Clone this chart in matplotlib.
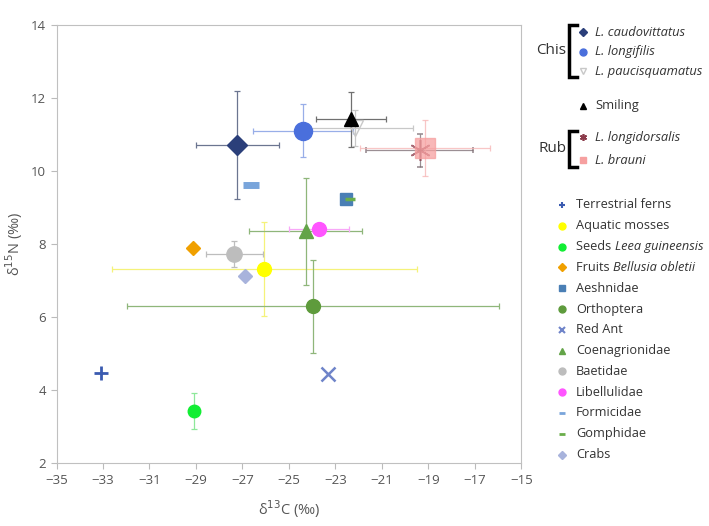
import matplotlib.pyplot as plt

plt.rcParams['font.family'] = ['Open Sans', 'DejaVu Sans']

# --- data: food sources (delta13C, delta15N, errors) ---
src_names = ['Terrestrial ferns', 'Aquatic mosses', 'Seeds', 'Fruits', 'Aeshnidae',
             'Orthoptera', 'Red Ant', 'Coenagrionidae', 'Baetidae', 'Libellulidae',
             'Formicidae', 'Gomphidae', 'Crabs']
src_c = [-33.1, -26.06, -29.1, -29.13, -22.55, -23.98, -23.32, -24.28, -27.35, -23.7, -26.65, -22.38, -26.88]
src_n = [4.47, 7.32, 3.44, 7.91, 9.24, 6.30, 4.45, 8.35, 7.73, 8.41, 9.62, 9.24, 7.12]
src_xerr = [0, 6.56, 0, 0, 0, 8.0, 0, 2.44, 1.22, 1.29, 0, 0, 0]
src_yerr = [0, 1.28, 0.49, 0, 0, 1.28, 0, 1.47, 0.36, 0, 0, 0, 0]

# --- data: fish ---
fish_names = ['L. caudovittatus', 'L. longifilis', 'L. paucisquamatus', 'Smiling',
              'L. longidorsalis', 'L. brauni']
fish_c = [-27.22, -24.38, -22.16, -22.33, -19.37, -19.15]
fish_n = [10.72, 11.11, 11.18, 11.42, 10.58, 10.63]
fish_xerr = [1.78, 2.15, 2.5, 1.5, 2.3, 2.8]
fish_yerr = [1.48, 0.73, 0.5, 0.75, 0.45, 0.77]

# styles
src_style = [
    dict(marker='+', color='#3a5bb0', ecolor='#3a5bb0', ms=10, mew=2),
    dict(marker='o', color='#ffff00', ecolor='#f5f27a', ms=10),
    dict(marker='o', color='#11ee33', ecolor='#8ee89a', ms=9),
    dict(marker='D', color='#f0a000', ecolor='#f0a000', ms=7),
    dict(marker='s', color='#4a7fb5', ecolor='#4a7fb5', ms=9),
    dict(marker='o', color='#5e9b3c', ecolor='#8fb67a', ms=10),
    dict(marker='x', color='#6f84c9', ecolor='#6f84c9', ms=10, mew=1.8),
    dict(marker='^', color='#63a448', ecolor='#8fb67a', ms=10),
    dict(marker='o', color='#bdbdbd', ecolor='#bdbdbd', ms=11),
    dict(marker='o', color='#ff55ff', ecolor='#f8a8f8', ms=10),
    dict(marker='_', color='#79a5db', ecolor='#79a5db', ms=12, mew=5),
    dict(marker='_', color='#6aae4b', ecolor='#6aae4b', ms=7, mew=2.5),
    dict(marker='D', color='#a8b3dc', ecolor='#a8b3dc', ms=7),
]
fish_style = [
    dict(marker='D', color='#2b3f7a', ecolor='#6b7590', ms=10),
    dict(marker='o', color='#4a6fdc', ecolor='#98aee8', ms=13),
    dict(marker='v', color='none', mec='#c8c8c8', ecolor='#c8c8c8', ms=11),
    dict(marker='^', color='black', ecolor='#707070', ms=10),
    dict(marker=(6, 2, 0), color='#8b3a4a', ecolor='#7a6a70', ms=15, mew=1.2),
    dict(marker='s', color='#f6a0a0', ecolor='#f6b4b4', ms=15),
]

fig = plt.figure(figsize=(7.09, 5.26), dpi=100)
ax = fig.add_axes([0.0797, 0.1192, 0.6558, 0.8328])

for c, n, xe, ye, st in zip(src_c, src_n, src_xerr, src_yerr, src_style):
    st = dict(st)
    ecol = st.pop('ecolor')
    ax.errorbar(c, n, xerr=xe if xe else None, yerr=ye if ye else None, ls='none',
                ecolor=ecol, elinewidth=0.9, capsize=2.5, capthick=0.9, **st)

for c, n, xe, ye, st in zip(fish_c, fish_n, fish_xerr, fish_yerr, fish_style):
    st = dict(st)
    ecol = st.pop('ecolor')
    alpha = 0.75 if st['color'] in ('#f6a0a0', '#8b3a4a') else 1
    ax.errorbar(c, n, xerr=xe, yerr=ye, ls='none', ecolor=ecol, elinewidth=0.9,
                capsize=2.5, capthick=0.9, alpha=alpha, **st)

ax.set_xlim(-35, -15)
ax.set_ylim(2, 14)
ax.set_xticks(range(-35, -14, 2))
ax.set_yticks(range(2, 15, 2))
ax.tick_params(colors='#555555', labelsize=9.5, length=4, color='#bbbbbb')
for s in ax.spines.values():
    s.set_color('#c0c0c0')
ax.set_xlabel('δ$^{13}$C (‰)', color='#555555', fontsize=10.5, labelpad=8)
ax.set_ylabel('δ$^{15}$N (‰)', color='#555555', fontsize=10.5, labelpad=4)

# --- custom legend in pixel coordinates ---
lax = fig.add_axes([0, 0, 1, 1])
lax.set_xlim(0, 709)
lax.set_ylim(526, 0)
lax.axis('off')


def legend_marker(x, y, st):
    st = dict(st)
    st.pop('ecolor')
    st.pop('ms')
    mew = st.pop('mew', 1)
    if st['marker'] == '_':
        lax.plot(x, y, ls='none', ms=5, mew=2, **st)
    elif st['marker'] == 'D':
        lax.plot(x, y, ls='none', ms=4, **st)
    else:
        lax.plot(x, y, ls='none', ms=5, mew=min(mew, 1.5), **st)


fish_rows = [32, 52, 71, 106, 137, 160]
for y, name, st in zip(fish_rows, fish_names, fish_style):
    legend_marker(583, y, st)
    italic = name.startswith('L.')
    lax.text(595, y, name, va='center', ha='left', fontsize=9.3,
             style='italic' if italic else 'normal', color='#333333')

# brackets
for (y0, y1, label) in [(25, 77, 'Chis'), (131, 167, 'Rub')]:
    lax.plot([577, 569, 569, 577], [y0, y0, y1, y1], color='black', lw=2.5,
             solid_joinstyle='miter')
    lax.text(566, (y0 + y1) / 2, label, ha='right', va='center', fontsize=11, color='#333333')

src_labels = [('Terrestrial ferns', None), ('Aquatic mosses', None), ('Seeds ', 'Leea guineensis'),
              ('Fruits ', 'Bellusia obletii'), ('Aeshnidae', None), ('Orthoptera', None),
              ('Red Ant', None), ('Coenagrionidae', None), ('Baetidae', None),
              ('Libellulidae', None), ('Formicidae', None), ('Gomphidae', None), ('Crabs', None)]
fig.canvas.draw()
renderer = fig.canvas.get_renderer()
for i, ((plain, ital), st) in enumerate(zip(src_labels, src_style)):
    y = 205 + i * 20.8
    legend_marker(562, y, st)
    t = lax.text(576, y, plain, va='center', ha='left', fontsize=9.2, color='#333333')
    if ital:
        bb = t.get_window_extent(renderer=renderer)
        lax.text(bb.x1, y, ital, va='center', ha='left', fontsize=9.2,
                 style='italic', color='#333333')

fig.savefig('out.png', dpi=100)
